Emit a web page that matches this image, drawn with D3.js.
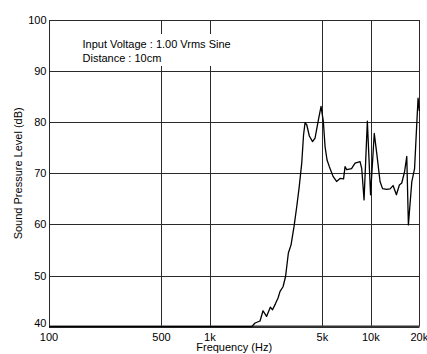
<!DOCTYPE html>
<html>
<head>
<meta charset="utf-8">
<script src="https://cdn.jsdelivr.net/npm/d3@7"></script>
<style>
  html, body { margin: 0; padding: 0; background: #fff; }
  svg { display: block; font-family: "Liberation Sans", Arial, sans-serif; }
</style>
</head>
<body>
<svg id="chart" width="427" height="354"></svg>
<script>
// ---- data ----
const frequencyHz = [100, 1819, 1907, 2048, 2138, 2248, 2373, 2449, 2556, 2650, 2728, 2847, 2951, 3072, 3192, 3332, 3464, 3580, 3720, 3817, 3900, 3996, 4148, 4342, 4500, 4718, 4904, 5068, 5193, 5343, 5522, 5823, 6122, 6437, 6767, 6914, 7084, 7586, 7976, 8567, 8778, 9073, 9511, 9957, 10498, 10880, 11404, 11820, 12550, 13160, 13740, 14410, 15040, 15560, 16200, 16720, 17110, 17960, 18690, 19290, 19650, 20000];
const splDb = [40, 40, 40.7, 41.1, 43.1, 42.0, 43.8, 43.3, 44.5, 45.6, 46.9, 47.8, 49.8, 54.4, 56.0, 59.6, 63.5, 67.1, 72.0, 77.5, 79.9, 79.5, 77.3, 76.2, 76.9, 80.4, 83.1, 80.1, 75.2, 72.6, 71.3, 69.4, 68.4, 69.0, 68.9, 71.3, 70.7, 70.9, 72.0, 72.3, 70.9, 64.8, 80.2, 65.8, 77.8, 73.9, 68.4, 67.0, 66.85, 66.95, 67.6, 65.8, 67.7, 68.1, 70.3, 73.3, 59.9, 68.3, 70.9, 79.7, 84.7, 82.2];
const xTickValues = [100, 500, 1000, 5000, 10000, 20000];
const xTickLabels = ["100", "500", "1k", "5k", "10k", "20k"];
const yTickValues = [40, 50, 60, 70, 80, 90, 100];
const annotationLines = ["Input Voltage : 1.00 Vrms Sine", "Distance : 10cm"];
const xTitle = "Frequency (Hz)";
const yTitle = "Sound Pressure Level (dB)";

// ---- layout ----
const svg = d3.select("#chart");
const plotLeft = 49, plotRight = 419.3, plotTop = 20, plotBottom = 326.6;
const x = d3.scaleLog().domain([100, 20000]).range([plotLeft, plotRight]);
const y = d3.scaleLinear().domain([40, 100]).range([plotBottom, plotTop]);
const gridColor = "#2a2a2a";

// horizontal grid
svg.append("g").selectAll("line").data(yTickValues).join("line")
  .attr("x1", plotLeft).attr("x2", plotRight)
  .attr("y1", d => Math.round(y(d)) + 0.5).attr("y2", d => Math.round(y(d)) + 0.5)
  .attr("stroke", gridColor).attr("stroke-width", 1);

// vertical grid
svg.append("g").selectAll("line").data(xTickValues).join("line")
  .attr("x1", d => Math.round(x(d)) + 0.5).attr("x2", d => Math.round(x(d)) + 0.5)
  .attr("y1", plotTop).attr("y2", plotBottom)
  .attr("stroke", gridColor).attr("stroke-width", 1);

// bottom axis line (heavier)
svg.append("line")
  .attr("x1", plotLeft).attr("x2", plotRight)
  .attr("y1", plotBottom).attr("y2", plotBottom)
  .attr("stroke", "#333").attr("stroke-width", 2);

// annotation box
svg.append("rect").attr("x", 79).attr("y", 34).attr("width", 158).attr("height", 32).attr("fill", "#fff");
svg.append("g").selectAll("text").data(annotationLines).join("text")
  .attr("x", 82.5).attr("y", (d, i) => 48.3 + i * 14)
  .attr("font-size", 11).attr("fill", "#000")
  .text(d => d);

// curve
const line = d3.line().x((d, i) => x(frequencyHz[i])).y(d => y(d));
svg.append("path").datum(splDb)
  .attr("d", line)
  .attr("fill", "none").attr("stroke", "#000").attr("stroke-width", 1.3)
  .attr("stroke-linejoin", "round");

// y tick labels
svg.append("g").selectAll("text").data(yTickValues).join("text")
  .attr("x", 46.5)
  .attr("y", d => y(d) + (d === 40 ? 0 : 4))
  .attr("text-anchor", "end").attr("font-size", 11).attr("fill", "#000")
  .text(d => d);

// x tick labels
svg.append("g").selectAll("text").data(xTickValues).join("text")
  .attr("x", d => x(d))
  .attr("y", 340.5)
  .attr("text-anchor", "middle").attr("font-size", 11).attr("fill", "#000")
  .text((d, i) => xTickLabels[i]);

// axis titles
svg.append("text")
  .attr("x", (plotLeft + plotRight) / 2).attr("y", 351.3)
  .attr("text-anchor", "middle").attr("font-size", 11).attr("fill", "#000")
  .text(xTitle);
svg.append("text")
  .attr("transform", `translate(21.5, ${(plotTop + plotBottom) / 2}) rotate(-90)`)
  .attr("text-anchor", "middle").attr("font-size", 11).attr("fill", "#000")
  .text(yTitle);
</script>
</body>
</html>
